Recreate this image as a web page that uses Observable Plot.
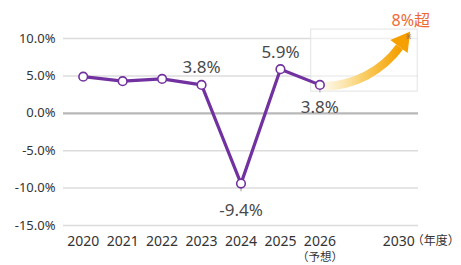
<!DOCTYPE html>
<html>
<head>
<meta charset="utf-8">
<script src="https://cdn.jsdelivr.net/npm/d3@7"></script>
<script src="https://cdn.jsdelivr.net/npm/@observablehq/plot@0.6"></script>
<style>
  html, body { margin: 0; padding: 0; background: #fff; }
</style>
</head>
<body>
<div id="chart"></div>
<script>
// ---- data ----
const years = ["2020", "2021", "2022", "2023", "2024", "2025", "2026"];
const growth = [4.9, 4.3, 4.6, 3.8, -9.4, 5.9, 3.8];
const targetYear = "2030";
const targetLabel = "8%超";
const forecastNote = "（予想）";
const unitNote = "（年度）";
const yTicks = [-15, -10, -5, 0, 5, 10];
// labelled points: index, label
const labelsAbove = [{i: 3, text: "3.8%"}, {i: 5, text: "5.9%"}];
const labelsBelow = [{i: 6, text: "3.8%"}];
const labelsBelowFar = [{i: 4, text: "-9.4%"}];
// annotation positions in data units (x = category index)
const targetIndex = 8;
const arrowFrom = {x: 6.12, y: 3.6};
const arrowTo = {x: 8.02, y: 8.85};
const arrowHead = {x: 8.10, y: 9.6};
const boxArea = {x1: 5.78, x2: 8.48, y1: 2.9, y2: 11.2};

const points = years.map((yr, i) => ({i, year: yr, value: growth[i]}));
const xLabels = years.map((yr, i) => ({i, text: yr})).concat([{i: targetIndex, text: targetYear}]);
const belowAll = labelsBelow.concat(labelsBelowFar);

const purple = "#7231a0";

const chart = Plot.plot({
  width: 461,
  height: 265,
  marginLeft: 63,
  marginRight: 43,
  marginTop: 38,
  marginBottom: 40,
  style: {fontFamily: "'Noto Sans', 'Noto Sans CJK JP', sans-serif", background: "#fff"},
  x: {domain: [-0.5, targetIndex + 0.5], axis: null},
  y: {domain: [-15, 10], axis: null},
  marks: [
    Plot.ruleY(yTicks.filter(d => d !== 0), {stroke: "#dcdcdc", strokeWidth: 1.5}),
    Plot.ruleY([0], {stroke: "#b8b8b8", strokeWidth: 2.2}),
    Plot.text(yTicks, {
      x: -0.5, y: d => d, text: d => d.toFixed(1) + "%",
      textAnchor: "end", dx: -8, fontSize: 13, fill: "#333"
    }),
    Plot.text(xLabels, {
      x: "i", y: -15, text: "text", dy: 16, fontSize: 14, fill: "#333"
    }),
    Plot.text([forecastNote], {x: 6, y: -15, text: d => d, dy: 32, fontSize: 11.5, fill: "#333"}),
    Plot.text([unitNote], {x: targetIndex, y: -15, text: d => d, dy: 16, dx: 37, fontSize: 12, fill: "#333"}),
    // faint annotation box
    Plot.rect([boxArea], {x1: "x1", x2: "x2", y1: "y1", y2: "y2", fill: "#fff", fillOpacity: 0.5, stroke: "#e3e3e3", strokeWidth: 1}),
    // arrow
    Plot.arrow([{}], {
      x1: () => arrowFrom.x, y1: () => arrowFrom.y, x2: () => arrowTo.x, y2: () => arrowTo.y,
      bend: -26, headLength: 0, stroke: "url(#arrowGrad)", strokeWidth: 8.5, strokeLinecap: "butt"
    }),
    Plot.dot([arrowHead], {x: "x", y: "y", symbol: "triangle", r: 8, fill: "#f5a000", stroke: "none", rotate: 37}),
    Plot.text(["※"], {x: arrowHead.x, y: arrowHead.y, text: d => d, dx: 6, dy: -5, fontSize: 6.5, fill: "#6b5a40"}),
    Plot.text([targetLabel], {x: arrowHead.x, y: 10, text: d => d, dx: 8, dy: -18, fontSize: 16, fill: "#ee6a35"}),
    // small connector ticks under labelled-below points
    Plot.ruleX(belowAll, {x: "i", y1: d => growth[d.i], y2: d => growth[d.i] - 1.1, stroke: "#aaa", strokeWidth: 1.2}),
    // line and points
    Plot.line(points, {x: "i", y: "value", stroke: purple, strokeWidth: 3.2}),
    Plot.dot(points, {x: "i", y: "value", r: 4.3, fill: "#fff", stroke: purple, strokeWidth: 1.6}),
    Plot.text(labelsAbove, {x: "i", y: d => growth[d.i], text: "text", dy: -17, fontSize: 17, fill: "#4a4a4a"}),
    Plot.text(labelsBelow, {x: "i", y: d => growth[d.i], text: "text", dy: 23, fontSize: 17, fill: "#4a4a4a"}),
    Plot.text(labelsBelowFar, {x: "i", y: d => growth[d.i], text: "text", dy: 27, fontSize: 17, fill: "#4a4a4a"})
  ]
});

// gradient definition for the arrow body
const svgNS = "http://www.w3.org/2000/svg";
const defs = document.createElementNS(svgNS, "defs");
defs.innerHTML = `<linearGradient id="arrowGrad" x1="0" y1="0" x2="1" y2="0">
  <stop offset="0" stop-color="#fdf2d2" stop-opacity="0.6"/>
  <stop offset="0.5" stop-color="#f9cf6a"/>
  <stop offset="1" stop-color="#f5a000"/>
</linearGradient>`;
chart.insertBefore(defs, chart.firstChild);

document.getElementById("chart").appendChild(chart);
</script>
</body>
</html>
